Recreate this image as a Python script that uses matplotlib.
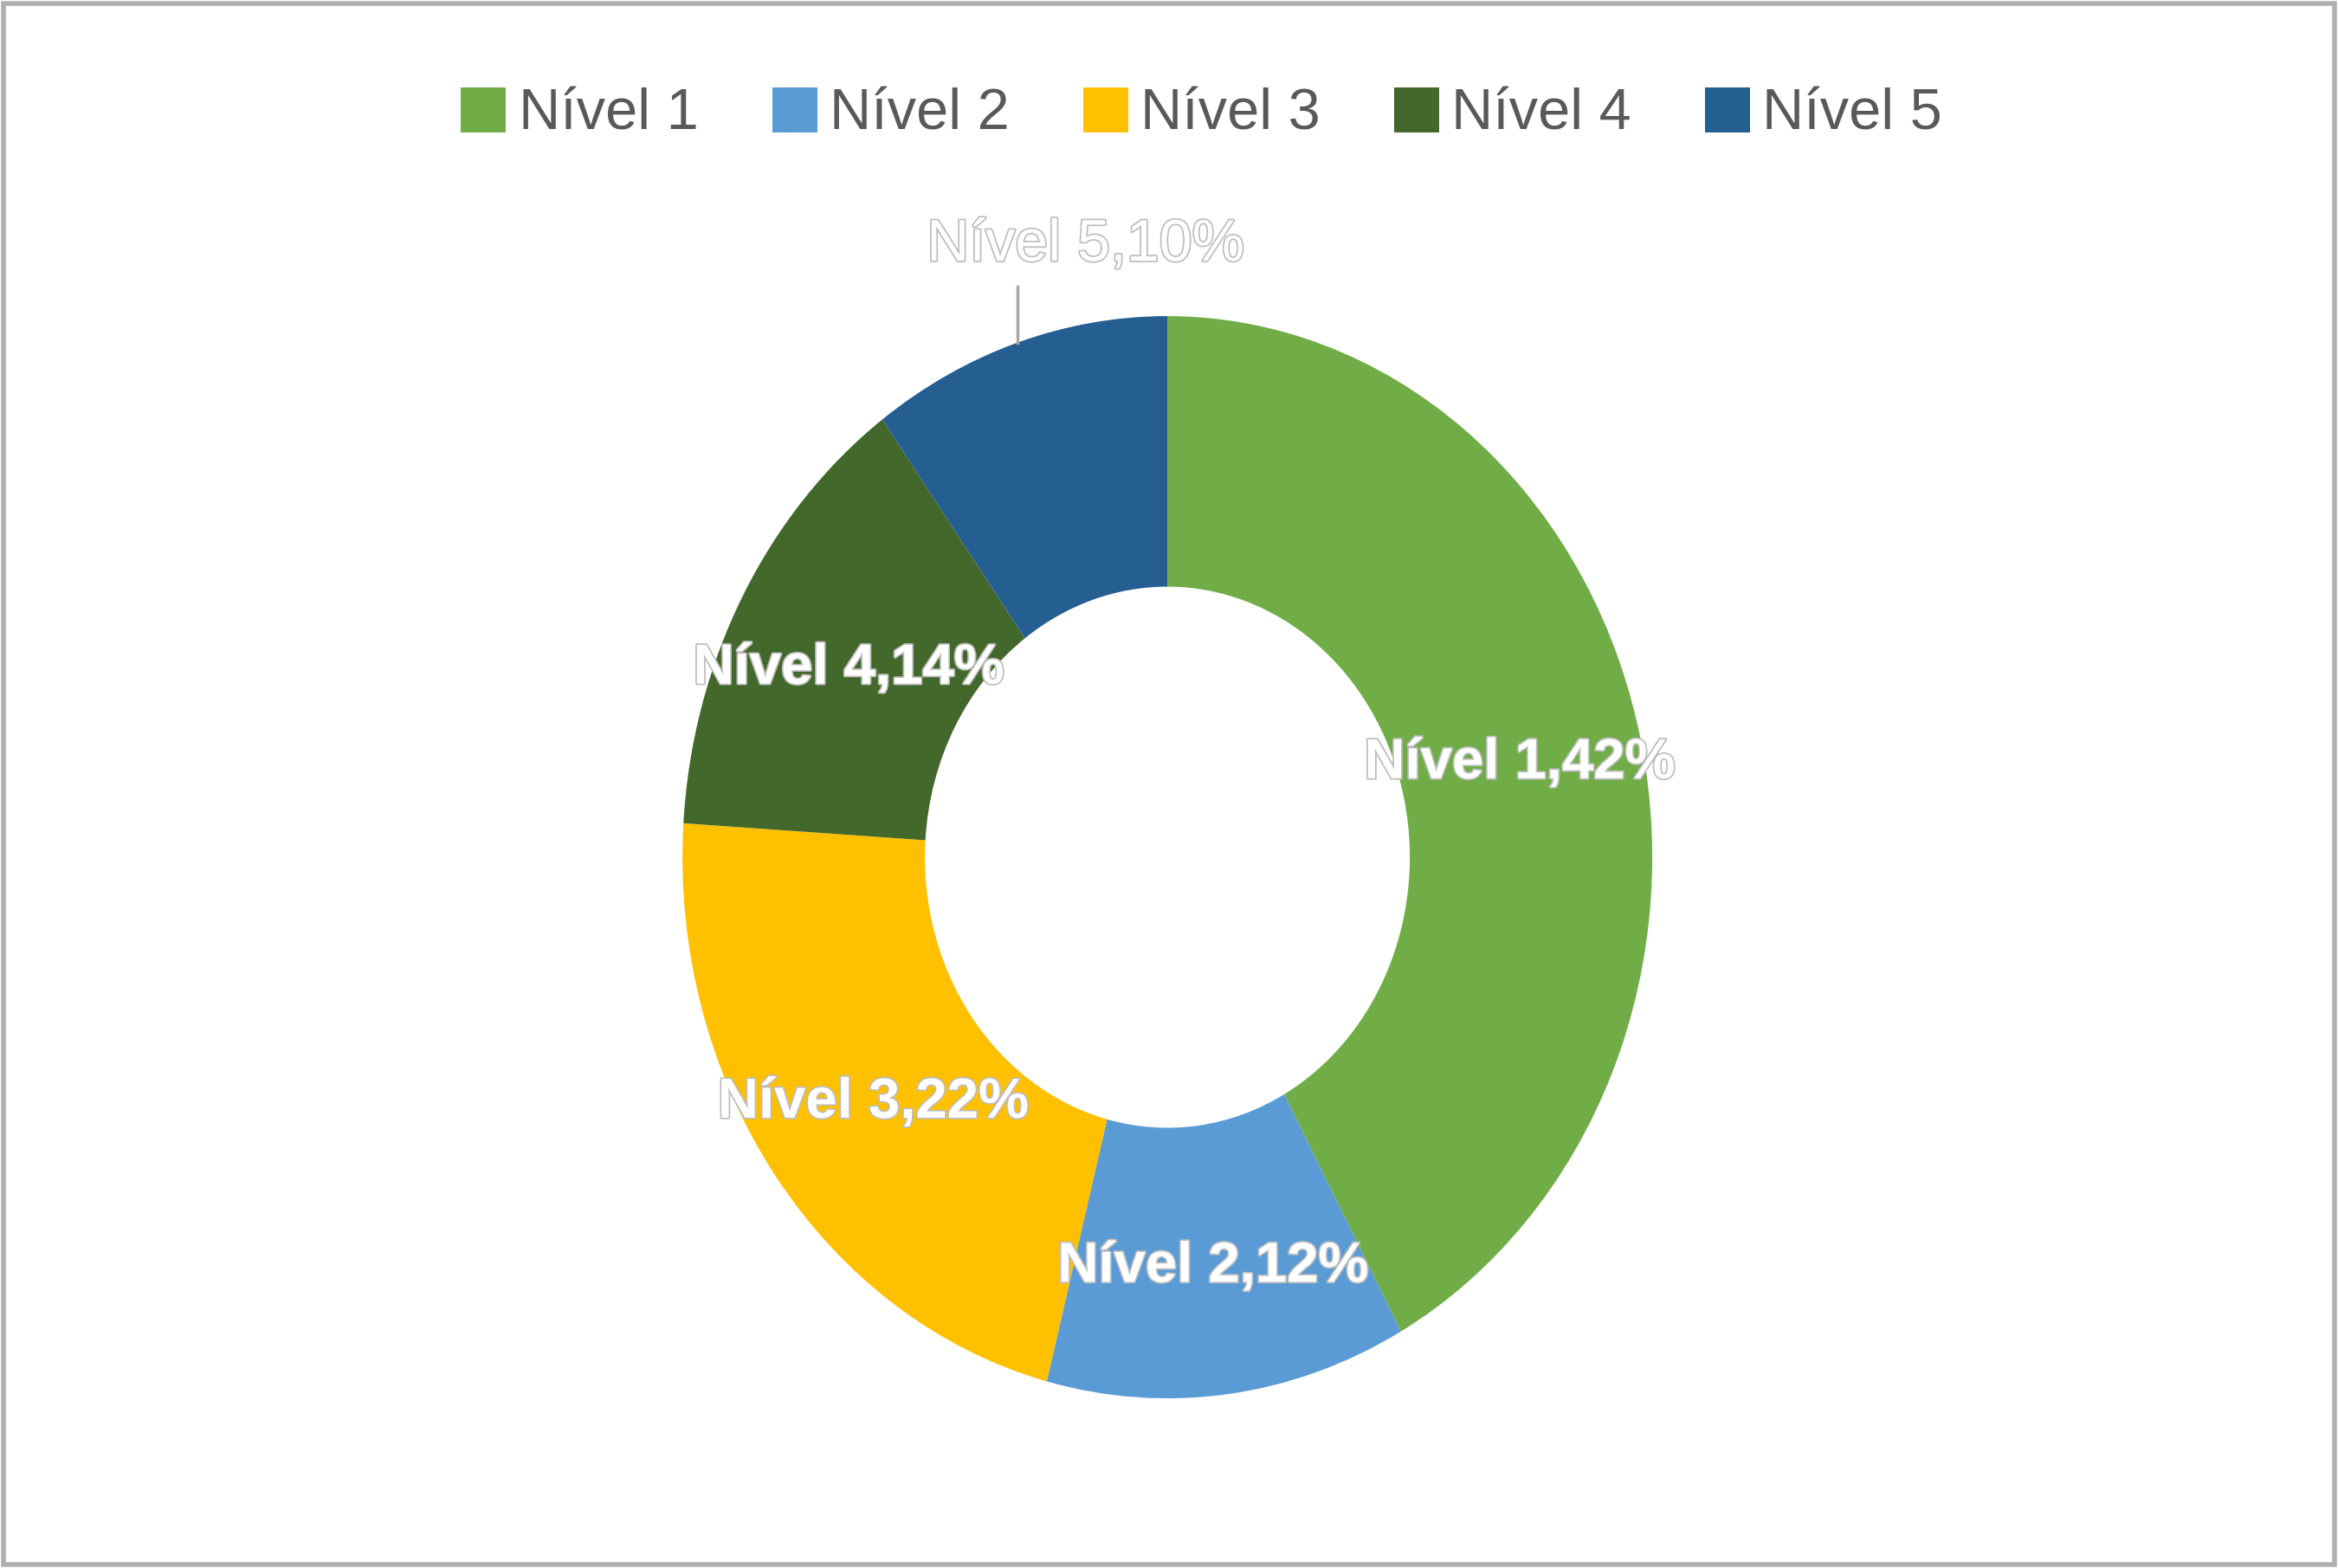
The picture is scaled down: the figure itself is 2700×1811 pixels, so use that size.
"""Donut chart: distribution by level (Nível 1-5)."""

import matplotlib.pyplot as plt
import matplotlib.patheffects as pe
import numpy as np
from matplotlib.patches import Rectangle

LEVELS = ["Nível 1", "Nível 2", "Nível 3", "Nível 4", "Nível 5"]
SHARES = [42, 12, 22, 14, 10]
COLORS = ["#70AD47", "#5B9BD5", "#FFC000", "#43682B", "#255E91"]

plt.rcParams["font.family"] = ["Liberation Sans", "DejaVu Sans"]

fig = plt.figure(figsize=(27, 18.11), dpi=100)
fig.patch.set_facecolor("white")

# donut is stretched vertically in the original, so use a non-square axes box
ax = fig.add_axes([0.2919, 0.1082, 0.4148, 0.6902])
wedges, _ = ax.pie(
    SHARES, colors=COLORS, startangle=90, counterclock=False,
    radius=1.0, wedgeprops=dict(width=0.5, edgecolor="white", linewidth=0),
)
ax.set_aspect("auto")
ax.set_xlim(-1, 1)
ax.set_ylim(-1, 1)
ax.axis("off")

outline = [pe.withStroke(linewidth=2.5, foreground="#BDBDBD")]

for i, (w, name, val) in enumerate(zip(wedges, LEVELS, SHARES)):
    mid = np.deg2rad((w.theta1 + w.theta2) / 2)
    label = f"{name},{val}%"
    if i < len(wedges) - 1:
        ax.annotate(label, (0.75 * np.cos(mid), 0.75 * np.sin(mid)),
                    xytext=(0, -6), textcoords="offset points",
                    ha="center", va="center", color="white", fontsize=47,
                    fontweight="bold", path_effects=outline)
    else:
        x0, y0 = np.cos(mid), np.sin(mid)
        ax.plot([x0, x0], [y0, 1.055], color="#A6A6A6", lw=2.5,
                clip_on=False)
        ax.annotate(label, (x0 + 0.14, 1.14), xytext=(0, -4),
                    textcoords="offset points", ha="center", va="center",
                    color="white", fontsize=49, path_effects=outline,
                    annotation_clip=False)

leg = fig.legend(
    wedges, LEVELS, loc="center", bbox_to_anchor=(0.514, 0.927), ncol=5,
    frameon=False, fontsize=48, handlelength=0.78, handleheight=0.83,
    handletextpad=0.22, columnspacing=1.27, labelcolor="#595959",
)

fig.patches.append(Rectangle((0.0015, 0.002), 0.997, 0.996,
                             transform=fig.transFigure, fill=False,
                             edgecolor="#B0B0B0", linewidth=4))

plt.savefig("out.png", dpi=100)
plt.close()
